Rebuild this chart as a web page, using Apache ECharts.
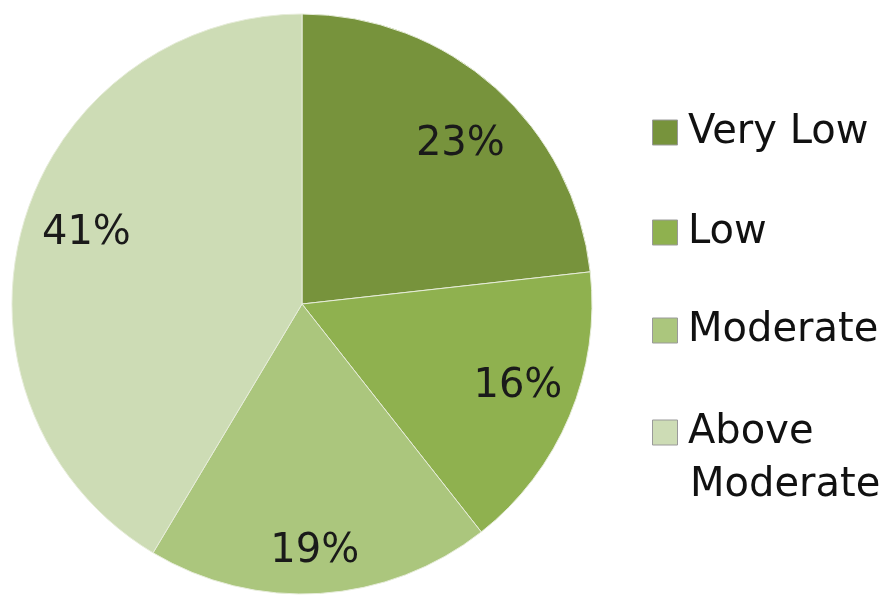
<!DOCTYPE html>
<html>
<head>
<meta charset="utf-8">
<script src="https://cdn.jsdelivr.net/npm/echarts@6/dist/echarts.min.js"></script>
<style>html,body{margin:0;padding:0;background:#fff;}#c{width:890px;height:595px;}</style>
</head>
<body>
<div id="c"></div>
<script>
const categories = ['Very Low', 'Low', 'Moderate', 'Above Moderate'];
const values = [23, 16, 19, 41];
const colors = ['#77933c', '#8fb14f', '#abc67d', '#cddcb5'];
const legendFirstLines = ['Very Low', 'Low', 'Moderate', 'Above'];
const legendSecondLines = ['', '', '', 'Moderate'];

const chart = echarts.init(document.getElementById('c'));
const center = [302, 304];
const labelNudge = [[3, 14], [1, -7], [-2, 15], [9, -8]];
const pieData = categories.map((n, i) => ({ name: n, value: values[i], itemStyle: { color: colors[i] } }));
const labelData = categories.map((n, i) => ({ name: n, value: values[i], label: { offset: labelNudge[i] } }));

const iconTops = [120, 220, 318, 420];
const legends = categories.map((n, i) => ({
  orient: 'vertical',
  left: 652,
  top: iconTops[i] - 12.5,
  padding: 0,
  itemWidth: 36,
  itemHeight: 25,
  itemGap: 0,
  icon: 'path://M0,0h25v25h-25z',
  symbolKeepAspect: true,
  selectedMode: false,
  data: [n],
  formatter: () => legendFirstLines[i],
  itemStyle: { borderColor: '#9a9a9a', borderWidth: 1 },
  textStyle: { fontFamily: 'DejaVu Sans', fontSize: 40, color: '#111', lineHeight: 50 }
}));

const graphics = [];
legendSecondLines.forEach((t, i) => {
  if (t) graphics.push({
    type: 'text', left: 690, top: iconTops[i] + 12.5 + 50 - 17,
    style: { text: t, font: '40px "DejaVu Sans"', fill: '#111', textVerticalAlign: 'top' }
  });
});

chart.setOption({
  animation: false,
  legend: legends,
  graphic: graphics,
  series: [
    {
      type: 'pie',
      center: center,
      radius: [0, 290],
      startAngle: 90,
      clockwise: true,
      label: { show: false },
      labelLine: { show: false },
      itemStyle: { borderColor: '#e6ecd9', borderWidth: 1 },
      data: pieData
    },
    {
      type: 'pie',
      center: center,
      radius: [170, 290],
      startAngle: 90,
      clockwise: true,
      silent: true,
      itemStyle: { color: 'rgba(0,0,0,0)' },
      label: {
        show: true,
        position: 'inside',
        formatter: '{c}%',
        fontFamily: 'DejaVu Sans',
        fontSize: 40,
        color: '#1a1a1a'
      },
      labelLine: { show: false },
      data: labelData
    }
  ]
});
</script>
</body>
</html>
